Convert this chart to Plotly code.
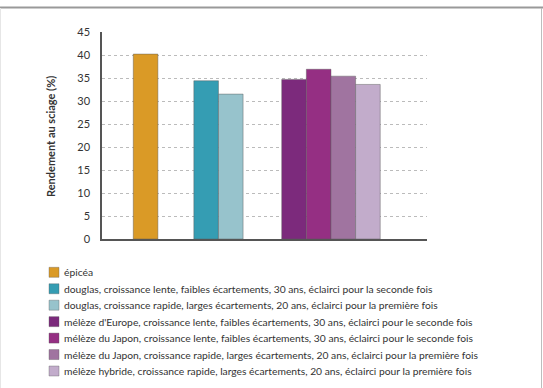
import plotly.graph_objects as go

# ---- data ----
series_names = [
    "épicéa",
    "douglas, croissance lente, faibles écartements, 30 ans, éclairci pour la seconde fois",
    "douglas, croissance rapide, larges écartements, 20 ans, éclairci pour la première fois",
    "mélèze d'Europe, croissance lente, faibles écartements, 30 ans, éclairci pour le seconde fois",
    "mélèze du Japon, croissance lente, faibles écartements, 30 ans, éclairci pour le seconde fois",
    "mélèze du Japon, croissance rapide, larges écartements, 20 ans, éclairci pour la première fois",
    "mélèze hybride, croissance rapide, larges écartements, 20 ans, éclairci pour la première fois",
]
values = [40.2, 34.4, 31.5, 34.7, 36.9, 35.4, 33.6]
group_of = [0, 1, 1, 2, 2, 2, 2]
colors = ["#DA9A26", "#359DB3", "#97C3CC", "#7C2A7C", "#952F83", "#A074A0", "#C2ACCB"]
y_ticks = [0, 5, 10, 15, 20, 25, 30, 35, 40, 45]
y_title = "Rendement au sciage (%)"

# layout of groups along x (in bar-width units)
group_start = [1.27, 3.73, 7.3]
x_max = 13.2

W, H = 543, 388
ML, MR, MT, MB = 102, 116, 32, 149
PW, PH = W - ML - MR, H - MT - MB

def px_x(px):
    return (px - ML) / PW

def px_y(py):
    return (H - MB - py) / PH

fig = go.Figure()
counter = {}
for name, v, g, c in zip(series_names, values, group_of, colors):
    k = counter.get(g, 0)
    counter[g] = k + 1
    fig.add_trace(go.Bar(
        x=[group_start[g] + k + 0.5], y=[v], width=[1.0], name=name,
        marker=dict(color=c, line=dict(color="rgba(90,90,90,0.45)", width=1)),
        showlegend=False,
    ))

# legend drawn as swatches + text (compact row spacing as in the reference)
LEG_X0, LEG_ROW0, LEG_DY, SW = 49, 272.3, 16.45, 10
annotations = [
    dict(text="<b>" + y_title + "</b>", textangle=-90, xref="paper", yref="paper",
         x=px_x(50), y=px_y(137), showarrow=False, xanchor="center", yanchor="middle",
         font=dict(family="Lato", size=11, color="#333")),
]
shapes = [
    dict(type="line", xref="paper", yref="paper", x0=px_x(0), x1=px_x(543),
         y0=px_y(7.5), y1=px_y(7.5), line=dict(color="#999", width=2)),
    dict(type="line", xref="paper", yref="paper", x0=px_x(0.5), x1=px_x(0.5),
         y0=px_y(8), y1=px_y(388), line=dict(color="#E6E6E6", width=1)),
    dict(type="line", xref="paper", yref="paper", x0=px_x(541.5), x1=px_x(541.5),
         y0=px_y(8), y1=px_y(388), line=dict(color="#BDBDBD", width=1)),
]
for i, (name, c) in enumerate(zip(series_names, colors)):
    cy = LEG_ROW0 + i * LEG_DY
    shapes.append(dict(type="rect", xref="paper", yref="paper",
                       x0=px_x(LEG_X0), x1=px_x(LEG_X0 + SW),
                       y0=px_y(cy - SW / 2), y1=px_y(cy + SW / 2),
                       fillcolor=c, line=dict(color="rgba(90,90,90,0.35)", width=1)))
    annotations.append(dict(text=name, xref="paper", yref="paper",
                            x=px_x(LEG_X0 + SW + 3), y=px_y(cy), showarrow=False,
                            xanchor="left", yanchor="middle",
                            font=dict(family="Lato", size=10.3, color="#333")))

fig.update_layout(
    width=W, height=H,
    margin=dict(l=ML, r=MR, t=MT, b=MB, autoexpand=False),
    paper_bgcolor="white", plot_bgcolor="white",
    font=dict(family="Lato", size=11, color="#333"),
    showlegend=False,
    xaxis=dict(range=[0, x_max], showticklabels=False, ticks="", showgrid=False,
               zeroline=False, showline=True, linecolor="#555", linewidth=1.5,
               fixedrange=True),
    yaxis=dict(range=[0, 45], tickvals=y_ticks, showgrid=True, gridcolor="#BBBBBB",
               griddash="3px,3px", gridwidth=1, zeroline=False, showline=True,
               linecolor="#555", linewidth=1.5, ticks="", ticklabelstandoff=8,
               tickfont=dict(size=11, color="#333")),
    annotations=annotations,
    shapes=shapes,
)

fig.write_html("out.html")
